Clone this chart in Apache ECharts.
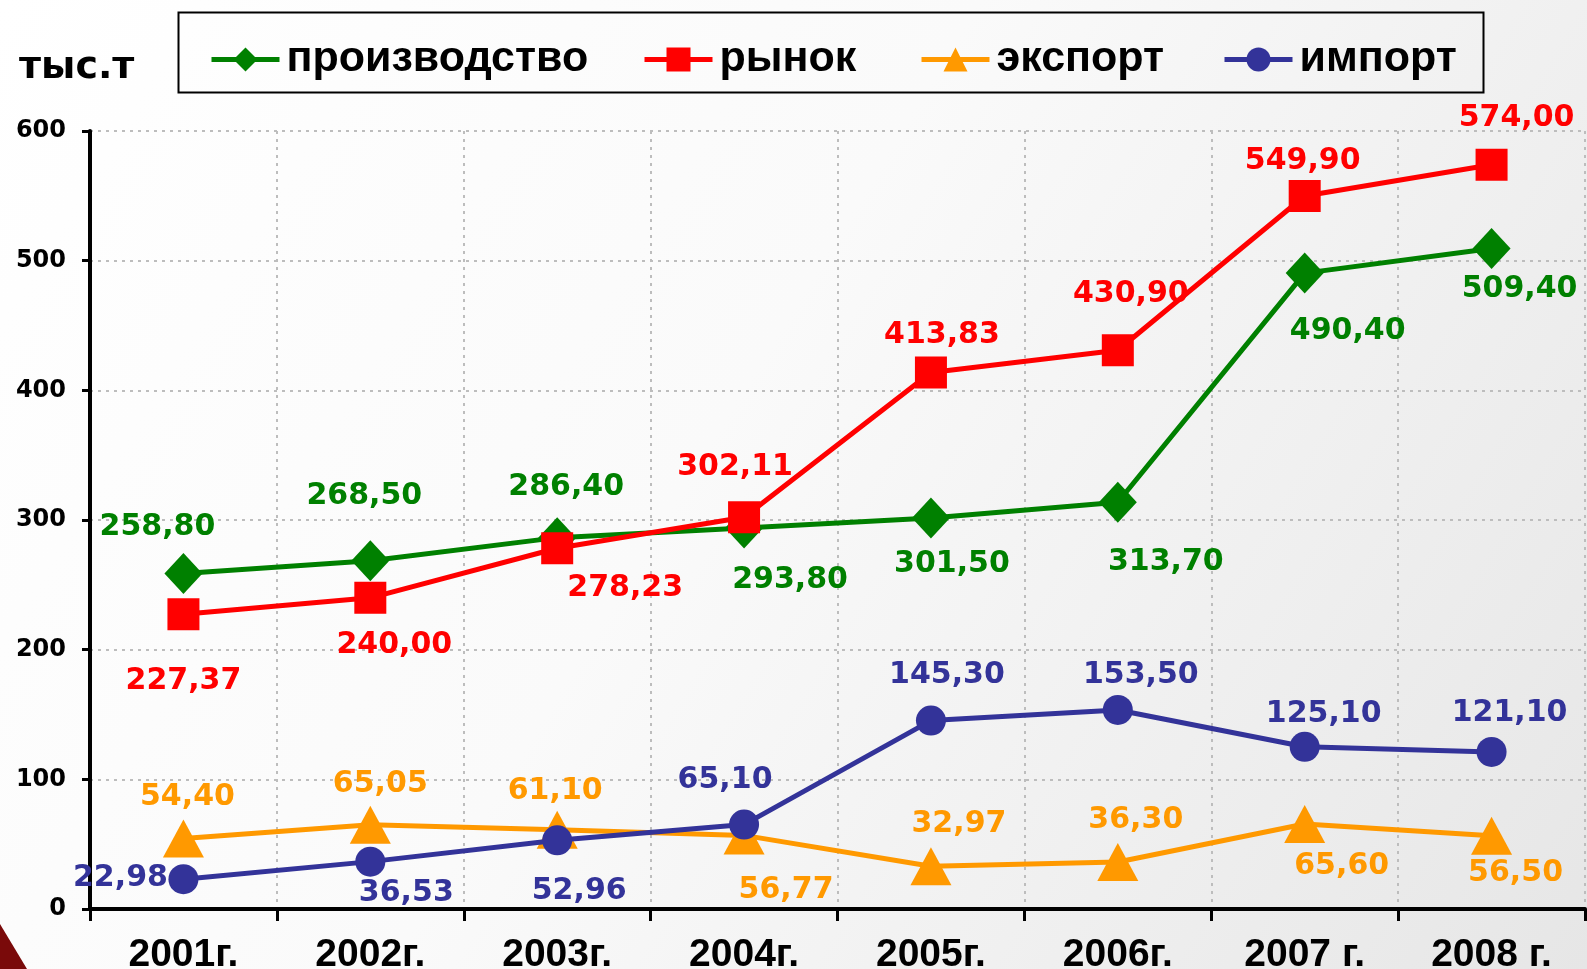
<!DOCTYPE html>
<html>
<head>
<meta charset="utf-8">
<script src="https://cdn.jsdelivr.net/npm/echarts@6/dist/echarts.min.js"></script>
<style>
html,body{margin:0;padding:0;}
#chart{width:1587px;height:969px;}
</style>
</head>
<body>
<div id="chart"></div>
<script>
// ---- data ----
var categories = ['2001г.', '2002г.', '2003г.', '2004г.', '2005г.', '2006г.', '2007 г.', '2008 г.'];
var seriesNames = ['производство', 'рынок', 'экспорт', 'импорт'];
var production = [258.80, 268.50, 286.40, 293.80, 301.50, 313.70, 490.40, 509.40];
var market = [227.37, 240.00, 278.23, 302.11, 413.83, 430.90, 549.90, 574.00];
var exportVals = [54.40, 65.05, 61.10, 56.77, 32.97, 36.30, 65.60, 56.50];
var importVals = [22.98, 36.53, 52.96, 65.10, 145.30, 153.50, 125.10, 121.10];
var yTicks = [0, 100, 200, 300, 400, 500, 600];

// ---- label placement (layout only) ----
var offProd = [[-26,-46],[-6,-65],[9,-50],[46,52],[21,46],[48,60],[43,58],[28,41]];
var offMarket = [[0,67],[24,47],[68,40],[-9,-50],[11,-37],[13,-56],[-2,-35],[25,-47]];
var offExport = [[4,-41],[10,-40],[-2,-39],[42,55],[28,-42],[18,-42],[37,42],[24,37]];
var offImport = [[-63,-1],[36,32],[22,51],[-19,-44],[16,-45],[23,-35],[19,-33],[18,-39]];

var colors = ['#008000', '#ff0000', '#ff9900', '#333399'];
var symbols = ['diamond', 'rect', 'triangle', 'circle'];
var symbolSizes = [[38, 41], 32, [41, 38], 30];

function fmt(v) { return v.toFixed(2).replace('.', ','); }

function buildData(vals, offs) {
  return vals.map(function (v, i) {
    return { value: v, label: { offset: offs[i] } };
  });
}

var allVals = [production, market, exportVals, importVals];
var allOffs = [offProd, offMarket, offExport, offImport];

var series = seriesNames.map(function (name, k) {
  return {
    name: name,
    type: 'line',
    data: buildData(allVals[k], allOffs[k]),
    symbol: symbols[k],
    symbolSize: symbolSizes[k],
    lineStyle: { color: colors[k], width: 5 },
    itemStyle: { color: colors[k] },
    z: 2 + k,
    label: {
      show: true,
      position: 'inside',
      color: colors[k],
      fontFamily: 'DejaVu Sans',
      fontWeight: 'bold',
      fontSize: 30,
      formatter: function (p) { return fmt(p.value); }
    },
    emphasis: { disabled: true },
    animation: false
  };
});

var legendLefts = [209, 642, 919, 1222];
var legends = seriesNames.map(function (name, k) {
  return {
    data: [name],
    left: legendLefts[k],
    top: 38,
    padding: 0,
    itemWidth: 68,
    itemHeight: 30,
    selectedMode: false,
    lineStyle: { width: 5 },
    textStyle: {
      fontFamily: 'Liberation Sans',
      fontWeight: 'bold',
      fontSize: 43,
      color: '#000',
      padding: [0, 0, 0, 2]
    }
  };
});

var chart = echarts.init(document.getElementById('chart'), null, { renderer: 'canvas' });
chart.setOption({
  animation: false,
  backgroundColor: {
    type: 'linear', x: 0, y: 0, x2: 1, y2: 1,
    colorStops: [
      { offset: 0, color: '#ffffff' },
      { offset: 0.45, color: '#fafafa' },
      { offset: 1, color: '#e6e6e6' }
    ]
  },
  title: {
    text: 'тыс.т',
    left: 14,
    top: 44,
    textStyle: { fontFamily: 'DejaVu Sans', fontWeight: 'bold', fontSize: 38, color: '#000' }
  },
  legend: legends,
  graphic: [
    {
      type: 'rect',
      shape: { x: 178.5, y: 12.5, width: 1305, height: 80 },
      style: { fill: 'rgba(0,0,0,0)', stroke: '#000', lineWidth: 2 },
      z: -1
    },
    {
      type: 'polygon',
      shape: { points: [[0, 924], [27, 969], [0, 969]] },
      style: { fill: '#7a0a0a' },
      z: -1
    }
  ],
  grid: { left: 90, right: 2, top: 131, bottom: 60, containLabel: false, outerBoundsMode: 'none' },
  xAxis: {
    type: 'category',
    data: categories,
    boundaryGap: true,
    axisLine: { lineStyle: { color: '#000', width: 4 } },
    axisTick: { show: true, length: 12, lineStyle: { color: '#000', width: 3 } },
    axisLabel: {
      margin: 27,
      color: '#000',
      fontFamily: 'Liberation Sans Narrow, Liberation Sans',
      fontWeight: 'bold',
      fontSize: 39
    },
    splitLine: { show: true, lineStyle: { color: '#bdbdbd', width: 2, type: [3, 5] } }
  },
  yAxis: {
    type: 'value',
    min: yTicks[0],
    max: yTicks[yTicks.length - 1],
    interval: 100,
    axisLine: { show: true, lineStyle: { color: '#000', width: 4 } },
    axisTick: { show: true, length: 8, lineStyle: { color: '#000', width: 3 } },
    axisLabel: {
      margin: 24,
      color: '#000',
      fontFamily: 'DejaVu Sans',
      fontWeight: 'bold',
      fontSize: 24
    },
    splitLine: { show: true, lineStyle: { color: '#bdbdbd', width: 2, type: [3, 5] } }
  },
  series: series
});
</script>
</body>
</html>
